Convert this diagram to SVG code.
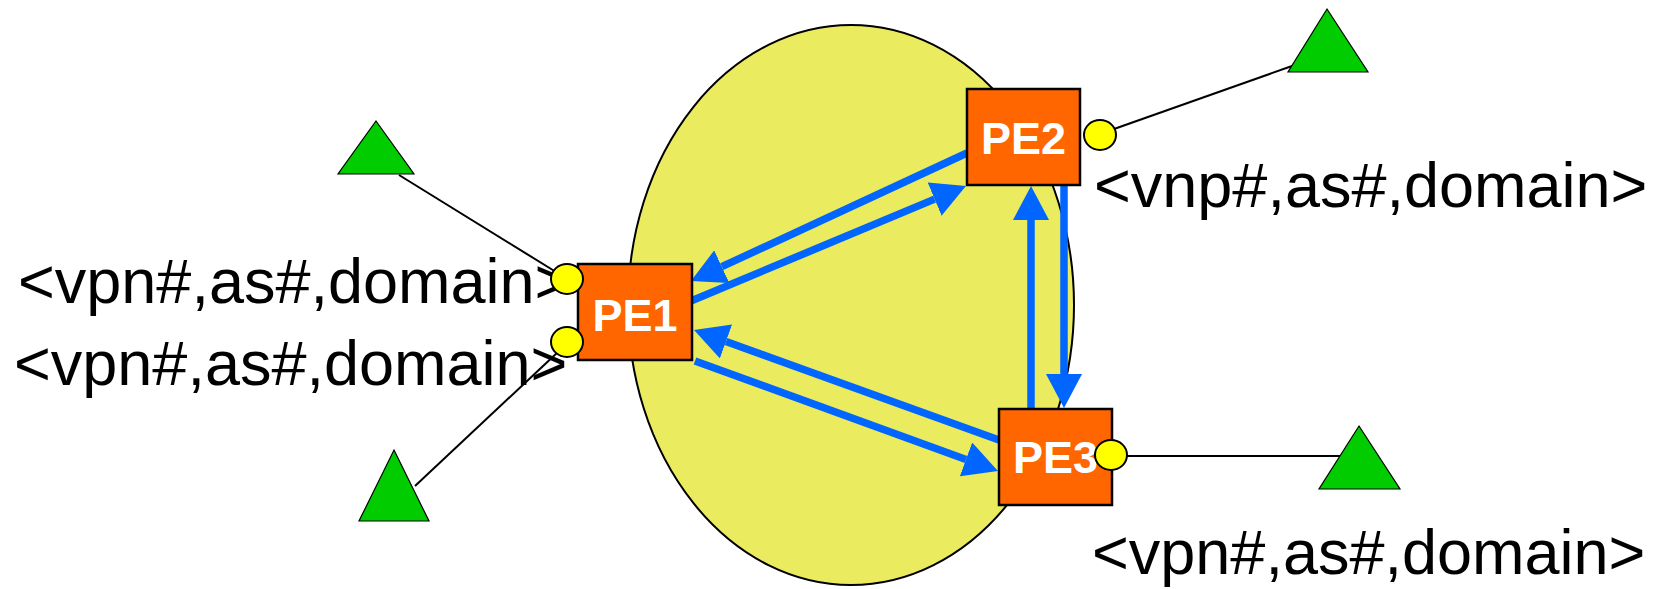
<svg xmlns="http://www.w3.org/2000/svg" width="1661" height="589" viewBox="0 0 1661 589">
  <style>
    .label { font-family: "Liberation Sans", Arial, sans-serif; font-size: 63px; fill: #000; }
    .pe-box { fill: #FF6600; stroke: #000; stroke-width: 2.5; }
    .pe-text { font-family: "Liberation Sans", Arial, sans-serif; font-size: 45px; font-weight: bold; fill: #fff; text-anchor: middle; }
    .port { fill: #FFFF00; stroke: #000; stroke-width: 2; }
    .site { fill: #00CC00; stroke: #000; stroke-width: 1.2; }
    .link { stroke: #000; stroke-width: 2; fill: none; }
    .flow { stroke: #0066FF; stroke-width: 7.5; fill: none; marker-end: url(#head); }
  </style>
  <defs>
    <marker id="head" markerUnits="userSpaceOnUse" viewBox="0 0 34 36" markerWidth="34" markerHeight="36" refX="0" refY="18" orient="auto">
      <path d="M0,0 L34,18 L0,36 z" fill="#0066FF"/>
    </marker>
  </defs>

  <!-- provider backbone -->
  <ellipse id="backbone" cx="851" cy="305" rx="223" ry="280" fill="#EAEB5F" stroke="#000" stroke-width="2"/>

  <!-- LSP flows between PEs and CE attachment links -->
  <g id="connectors">
    <line class="flow" x1="967" y1="153" x2="721.8" y2="266.7"/>
    <line class="flow" x1="691" y1="301" x2="934.6" y2="199.1"/>
    <line class="flow" x1="999" y1="440" x2="726" y2="341.5"/>
    <line class="flow" x1="695" y1="361" x2="966" y2="459.4"/>
    <line class="flow" x1="1031" y1="409" x2="1031" y2="220"/>
    <line class="flow" x1="1064" y1="185" x2="1064" y2="374"/>
    <line class="link" x1="399" y1="175" x2="556" y2="272"/>
    <line class="link" x1="415" y1="486" x2="558" y2="352"/>
    <line class="link" x1="1114" y1="129" x2="1292" y2="66"/>
    <line class="link" x1="1126" y1="456" x2="1340" y2="456"/>
  </g>

  <g id="PE1">
    <rect class="pe-box" x="578" y="264" width="114" height="96"/>
    <text class="pe-text" x="635" y="331">PE1</text>
  </g>
  <g id="PE2">
    <rect class="pe-box" x="967" y="89" width="113" height="96"/>
    <text class="pe-text" x="1023.5" y="154">PE2</text>
  </g>
  <g id="PE3">
    <rect class="pe-box" x="999" y="409" width="113" height="96"/>
    <text class="pe-text" x="1055.5" y="473">PE3</text>
  </g>

  <!-- VPN identifiers -->
  <g id="labels">
    <text class="label" x="18" y="303">&lt;vpn#,as#,domain&gt;</text>
    <text class="label" x="14" y="385">&lt;vpn#,as#,domain&gt;</text>
    <text class="label" x="1094" y="207">&lt;vnp#,as#,domain&gt;</text>
    <text class="label" x="1092" y="574">&lt;vpn#,as#,domain&gt;</text>
  </g>

  <!-- attachment circuits -->
  <g id="ports">
    <ellipse class="port" cx="567" cy="279" rx="16" ry="15"/>
    <ellipse class="port" cx="567" cy="342" rx="16" ry="15"/>
    <ellipse class="port" cx="1100" cy="135" rx="16" ry="15"/>
    <ellipse class="port" cx="1111" cy="455" rx="16" ry="15"/>
  </g>

  <!-- customer sites -->
  <g id="CE1"><polygon class="site" points="376,121 414,174 338,174"/></g>
  <g id="CE2"><polygon class="site" points="394,450 429,521 359,521"/></g>
  <g id="CE3"><polygon class="site" points="1327,9 1368,72 1288,72"/></g>
  <g id="CE4"><polygon class="site" points="1359,426 1400,489 1319,489"/></g>
</svg>
